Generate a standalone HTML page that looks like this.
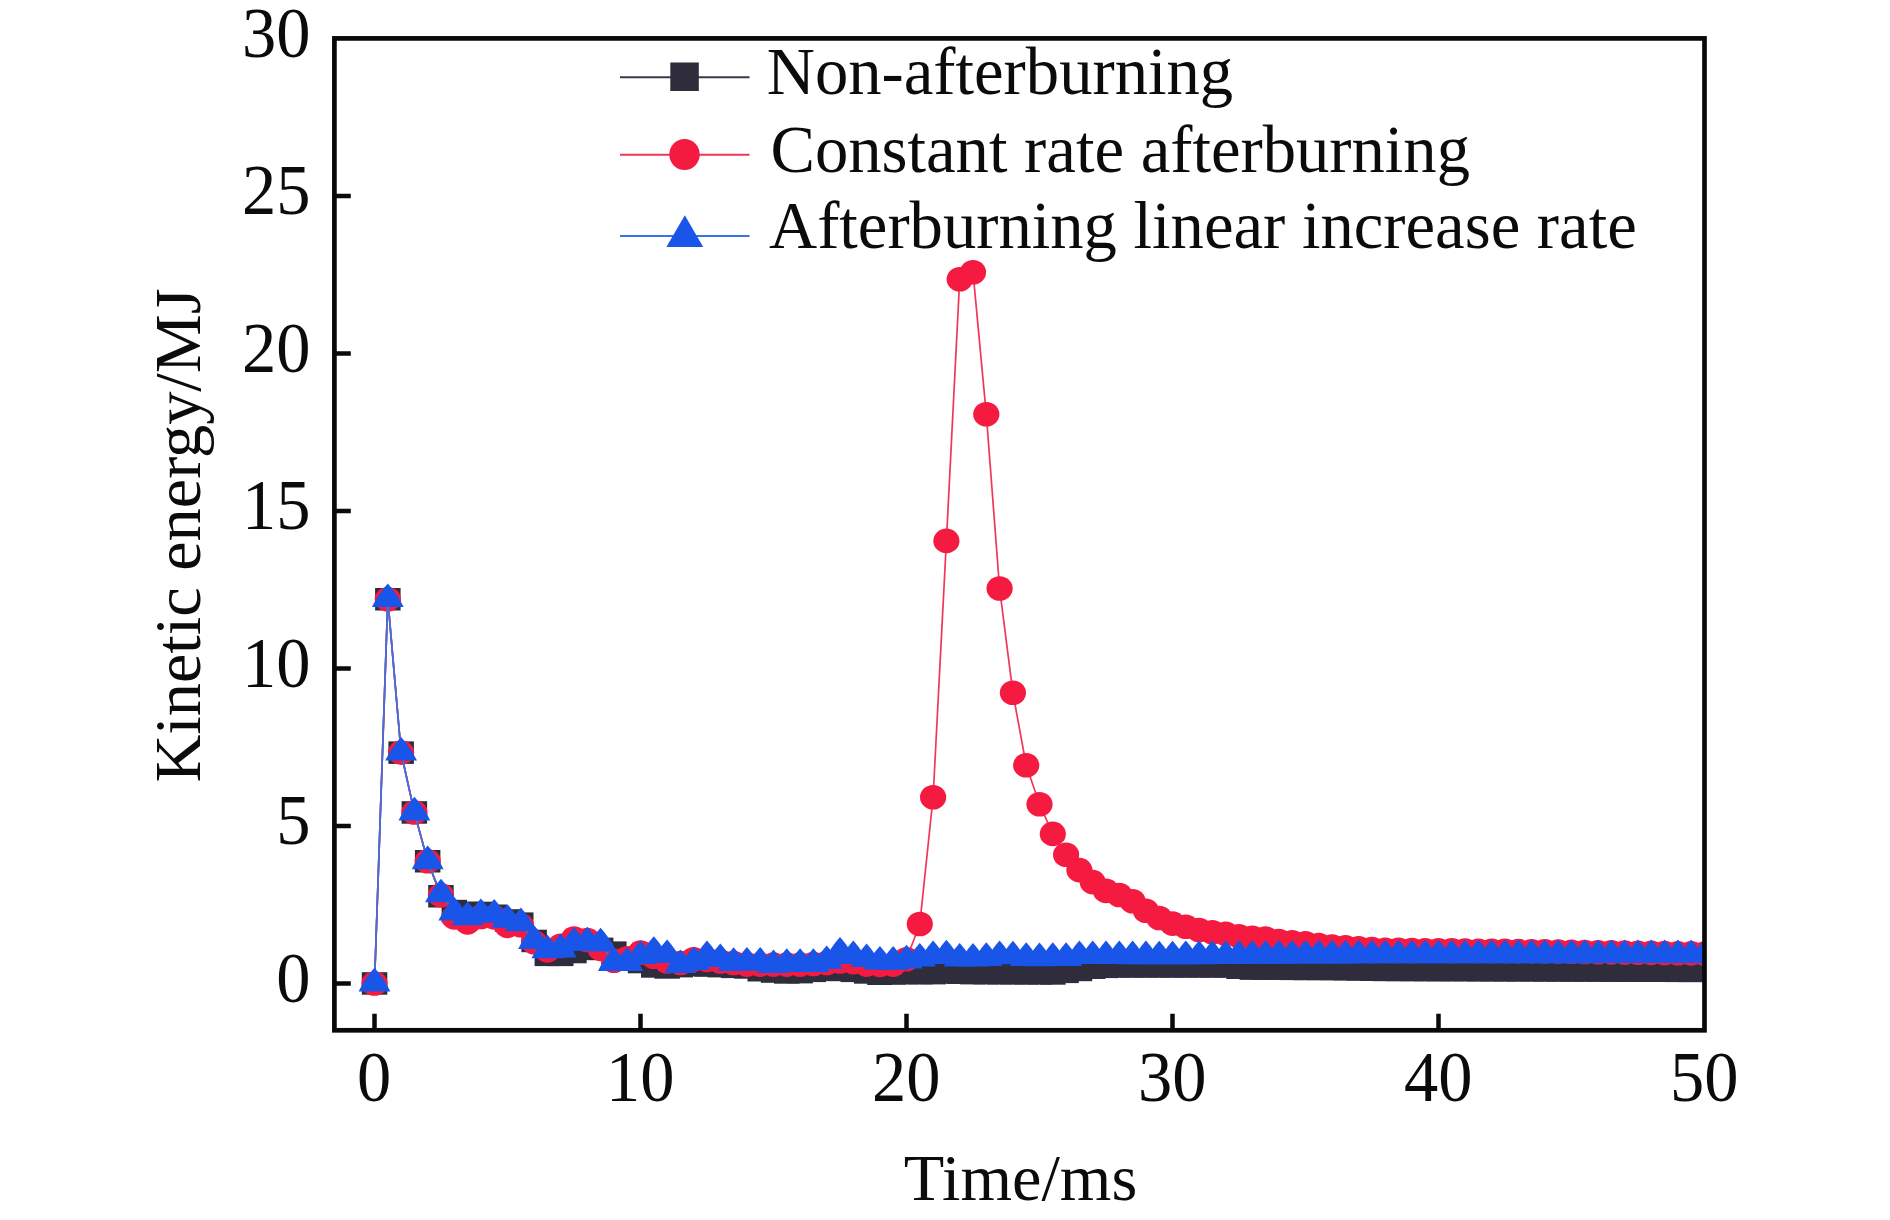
<!DOCTYPE html>
<html lang="en"><head><meta charset="utf-8"><title>Kinetic energy vs time</title>
<style>html,body{margin:0;padding:0;background:#fff}svg{display:block}</style></head>
<body>
<svg width="1890" height="1220" viewBox="0 0 1890 1220" font-family="'Liberation Serif', 'Times New Roman', serif" font-size="66.3" fill="#0b0b0b">
<rect width="1890" height="1220" fill="#fff"/>
<defs><clipPath id="pc"><rect x="334.4" y="38.4" width="1370" height="992"/></clipPath></defs>
<g clip-path="url(#pc)">
<polyline points="374.5,983.5 387.8,599.2 401.1,752.6 414.4,812.5 427.7,861.3 441,896.2 454.3,911 467.6,912.9 480.9,912.9 494.2,915.8 507.5,920.5 520.8,923.6 534.1,941 547.4,954.8 560.7,954.8 574,952 587.3,948.9 600.6,948.9 613.9,952.6 627.2,958.3 640.5,962.1 653.8,966.5 667.1,967.4 680.4,966.2 693.7,964.9 707,965.5 720.3,966.2 733.6,966.8 746.9,967.4 760.2,970.3 773.5,971.5 786.8,972.5 800.1,972.2 813.4,970.9 826.7,969.6 840,970 853.3,970.9 866.6,972.5 879.9,973.7 893.2,973.4 906.5,973.1 919.8,973.1 933.1,973.1 946.4,972.5 959.7,972.8 973,973.1 986.3,973.2 999.6,973.2 1012.9,973.3 1026.2,973.3 1039.5,973.4 1052.8,973.4 1066.1,971.8 1079.4,970 1092.7,967.8 1106,966.8 1119.3,966.5 1132.6,966.5 1145.9,966.5 1159.2,966.5 1172.5,966.5 1185.8,966.5 1199.1,966.5 1212.4,966.5 1225.7,966.5 1239,967.8 1252.3,968.7 1265.6,968.7 1278.9,968.8 1292.2,968.9 1305.5,968.9 1318.8,969 1332.1,969 1345.4,969.2 1358.7,969.5 1372,969.7 1385.3,970 1398.6,970 1411.9,970 1425.2,970.1 1438.5,970.1 1451.8,970.2 1465.1,970.2 1478.4,970.2 1491.7,970.3 1505,970.3 1518.3,970.3 1531.6,970.4 1544.9,970.4 1558.2,970.5 1571.5,970.5 1584.8,970.5 1598.1,970.6 1611.4,970.6 1624.7,970.7 1638,970.7 1651.3,970.7 1664.6,970.8 1677.9,970.8 1691.2,970.9 1704.5,970.9" fill="none" stroke="#3b3947" stroke-width="1.7"/><g fill="#2f2d3b"><rect x="361.8" y="972.2" width="25.5" height="22.5"/><rect x="375.1" y="588" width="25.5" height="22.5"/><rect x="388.4" y="741.4" width="25.5" height="22.5"/><rect x="401.6" y="801.2" width="25.5" height="22.5"/><rect x="414.9" y="850" width="25.5" height="22.5"/><rect x="428.2" y="885" width="25.5" height="22.5"/><rect x="441.6" y="899.8" width="25.5" height="22.5"/><rect x="454.9" y="901.7" width="25.5" height="22.5"/><rect x="468.1" y="901.7" width="25.5" height="22.5"/><rect x="481.4" y="904.5" width="25.5" height="22.5"/><rect x="494.8" y="909.2" width="25.5" height="22.5"/><rect x="508" y="912.4" width="25.5" height="22.5"/><rect x="521.4" y="929.7" width="25.5" height="22.5"/><rect x="534.6" y="943.6" width="25.5" height="22.5"/><rect x="548" y="943.6" width="25.5" height="22.5"/><rect x="561.2" y="940.8" width="25.5" height="22.5"/><rect x="574.5" y="937.6" width="25.5" height="22.5"/><rect x="587.9" y="937.6" width="25.5" height="22.5"/><rect x="601.1" y="941.4" width="25.5" height="22.5"/><rect x="614.5" y="947" width="25.5" height="22.5"/><rect x="627.8" y="950.8" width="25.5" height="22.5"/><rect x="641" y="955.2" width="25.5" height="22.5"/><rect x="654.4" y="956.2" width="25.5" height="22.5"/><rect x="667.7" y="954.9" width="25.5" height="22.5"/><rect x="681" y="953.7" width="25.5" height="22.5"/><rect x="694.2" y="954.3" width="25.5" height="22.5"/><rect x="707.5" y="954.9" width="25.5" height="22.5"/><rect x="720.9" y="955.6" width="25.5" height="22.5"/><rect x="734.2" y="956.2" width="25.5" height="22.5"/><rect x="747.5" y="959" width="25.5" height="22.5"/><rect x="760.8" y="960.3" width="25.5" height="22.5"/><rect x="774" y="961.2" width="25.5" height="22.5"/><rect x="787.4" y="960.9" width="25.5" height="22.5"/><rect x="800.7" y="959.6" width="25.5" height="22.5"/><rect x="814" y="958.4" width="25.5" height="22.5"/><rect x="827.2" y="958.7" width="25.5" height="22.5"/><rect x="840.5" y="959.6" width="25.5" height="22.5"/><rect x="853.9" y="961.2" width="25.5" height="22.5"/><rect x="867.2" y="962.5" width="25.5" height="22.5"/><rect x="880.5" y="962.2" width="25.5" height="22.5"/><rect x="893.8" y="961.9" width="25.5" height="22.5"/><rect x="907.1" y="961.9" width="25.5" height="22.5"/><rect x="920.4" y="961.9" width="25.5" height="22.5"/><rect x="933.6" y="961.2" width="25.5" height="22.5"/><rect x="947" y="961.5" width="25.5" height="22.5"/><rect x="960.2" y="961.9" width="25.5" height="22.5"/><rect x="973.6" y="961.9" width="25.5" height="22.5"/><rect x="986.9" y="962" width="25.5" height="22.5"/><rect x="1000.2" y="962" width="25.5" height="22.5"/><rect x="1013.5" y="962.1" width="25.5" height="22.5"/><rect x="1026.8" y="962.1" width="25.5" height="22.5"/><rect x="1040.1" y="962.2" width="25.5" height="22.5"/><rect x="1053.3" y="960.6" width="25.5" height="22.5"/><rect x="1066.7" y="958.7" width="25.5" height="22.5"/><rect x="1080" y="956.5" width="25.5" height="22.5"/><rect x="1093.2" y="955.6" width="25.5" height="22.5"/><rect x="1106.6" y="955.2" width="25.5" height="22.5"/><rect x="1119.8" y="955.2" width="25.5" height="22.5"/><rect x="1133.2" y="955.2" width="25.5" height="22.5"/><rect x="1146.5" y="955.2" width="25.5" height="22.5"/><rect x="1159.8" y="955.2" width="25.5" height="22.5"/><rect x="1173.1" y="955.2" width="25.5" height="22.5"/><rect x="1186.3" y="955.2" width="25.5" height="22.5"/><rect x="1199.7" y="955.2" width="25.5" height="22.5"/><rect x="1213" y="955.2" width="25.5" height="22.5"/><rect x="1226.2" y="956.5" width="25.5" height="22.5"/><rect x="1239.6" y="957.4" width="25.5" height="22.5"/><rect x="1252.8" y="957.5" width="25.5" height="22.5"/><rect x="1266.2" y="957.5" width="25.5" height="22.5"/><rect x="1279.5" y="957.6" width="25.5" height="22.5"/><rect x="1292.8" y="957.7" width="25.5" height="22.5"/><rect x="1306.1" y="957.7" width="25.5" height="22.5"/><rect x="1319.3" y="957.8" width="25.5" height="22.5"/><rect x="1332.7" y="958" width="25.5" height="22.5"/><rect x="1346" y="958.2" width="25.5" height="22.5"/><rect x="1359.2" y="958.5" width="25.5" height="22.5"/><rect x="1372.6" y="958.7" width="25.5" height="22.5"/><rect x="1385.9" y="958.7" width="25.5" height="22.5"/><rect x="1399.2" y="958.8" width="25.5" height="22.5"/><rect x="1412.5" y="958.8" width="25.5" height="22.5"/><rect x="1425.8" y="958.9" width="25.5" height="22.5"/><rect x="1439" y="958.9" width="25.5" height="22.5"/><rect x="1452.4" y="958.9" width="25.5" height="22.5"/><rect x="1465.7" y="959" width="25.5" height="22.5"/><rect x="1479" y="959" width="25.5" height="22.5"/><rect x="1492.2" y="959.1" width="25.5" height="22.5"/><rect x="1505.5" y="959.1" width="25.5" height="22.5"/><rect x="1518.9" y="959.1" width="25.5" height="22.5"/><rect x="1532.2" y="959.2" width="25.5" height="22.5"/><rect x="1545.5" y="959.2" width="25.5" height="22.5"/><rect x="1558.8" y="959.3" width="25.5" height="22.5"/><rect x="1572" y="959.3" width="25.5" height="22.5"/><rect x="1585.4" y="959.3" width="25.5" height="22.5"/><rect x="1598.7" y="959.4" width="25.5" height="22.5"/><rect x="1612" y="959.4" width="25.5" height="22.5"/><rect x="1625.2" y="959.5" width="25.5" height="22.5"/><rect x="1638.6" y="959.5" width="25.5" height="22.5"/><rect x="1651.9" y="959.5" width="25.5" height="22.5"/><rect x="1665.2" y="959.6" width="25.5" height="22.5"/><rect x="1678.5" y="959.6" width="25.5" height="22.5"/><rect x="1691.8" y="959.6" width="25.5" height="22.5"/></g>
<polyline points="374.5,983.5 387.8,599.2 401.1,752.6 414.4,812.5 427.7,861.3 441,895.3 454.3,917.4 467.6,922.4 480.9,917 494.2,917.4 507.5,925.9 520.8,925.2 534.1,942.2 547.4,950.4 560.7,945.7 574,938.5 587.3,940 600.6,948.9 613.9,960.8 627.2,958.3 640.5,952.6 653.8,956.7 667.1,961.5 680.4,963 693.7,959.2 707,959.9 720.3,961.5 733.6,963 746.9,964.6 760.2,964.6 773.5,964.6 786.8,964.6 800.1,964.6 813.4,964 826.7,963 840,961.5 853.3,962.1 866.6,964.6 879.9,964.9 893.2,964.6 906.5,959.2 919.8,924 933.1,797.3 946.4,540.9 959.7,279.2 973,272.2 986.3,414.3 999.6,588.5 1012.9,692.8 1026.2,765.2 1039.5,804.3 1052.8,833.9 1066.1,854.7 1079.4,870.1 1092.7,882.1 1106,890.9 1119.3,895 1132.6,901.3 1145.9,910.7 1159.2,918 1172.5,923.6 1185.8,926.8 1199.1,930 1212.4,932.2 1225.7,933.7 1239,936.2 1252.3,937.8 1265.6,938.5 1278.9,941 1292.2,942.2 1305.5,943.2 1318.8,945.1 1332.1,946.6 1345.4,947.4 1358.7,948.2 1372,949 1385.3,949.8 1398.6,949.9 1411.9,950 1425.2,950.2 1438.5,950.3 1451.8,950.4 1465.1,950.6 1478.4,950.7 1491.7,950.8 1505,950.9 1518.3,951.1 1531.6,951.3 1544.9,951.4 1558.2,951.6 1571.5,951.8 1584.8,952 1598.1,952.2 1611.4,952.4 1624.7,952.6 1638,952.8 1651.3,952.9 1664.6,953.1 1677.9,953.3 1691.2,953.4 1704.5,953.6" fill="none" stroke="#f2365a" stroke-width="1.7"/><g fill="#f41a40"><ellipse cx="374.5" cy="983.5" rx="13.1" ry="12.3"/><ellipse cx="387.8" cy="599.2" rx="13.1" ry="12.3"/><ellipse cx="401.1" cy="752.6" rx="13.1" ry="12.3"/><ellipse cx="414.4" cy="812.5" rx="13.1" ry="12.3"/><ellipse cx="427.7" cy="861.3" rx="13.1" ry="12.3"/><ellipse cx="441" cy="895.3" rx="13.1" ry="12.3"/><ellipse cx="454.3" cy="917.4" rx="13.1" ry="12.3"/><ellipse cx="467.6" cy="922.4" rx="13.1" ry="12.3"/><ellipse cx="480.9" cy="917" rx="13.1" ry="12.3"/><ellipse cx="494.2" cy="917.4" rx="13.1" ry="12.3"/><ellipse cx="507.5" cy="925.9" rx="13.1" ry="12.3"/><ellipse cx="520.8" cy="925.2" rx="13.1" ry="12.3"/><ellipse cx="534.1" cy="942.2" rx="13.1" ry="12.3"/><ellipse cx="547.4" cy="950.4" rx="13.1" ry="12.3"/><ellipse cx="560.7" cy="945.7" rx="13.1" ry="12.3"/><ellipse cx="574" cy="938.5" rx="13.1" ry="12.3"/><ellipse cx="587.3" cy="940" rx="13.1" ry="12.3"/><ellipse cx="600.6" cy="948.9" rx="13.1" ry="12.3"/><ellipse cx="613.9" cy="960.8" rx="13.1" ry="12.3"/><ellipse cx="627.2" cy="958.3" rx="13.1" ry="12.3"/><ellipse cx="640.5" cy="952.6" rx="13.1" ry="12.3"/><ellipse cx="653.8" cy="956.7" rx="13.1" ry="12.3"/><ellipse cx="667.1" cy="961.5" rx="13.1" ry="12.3"/><ellipse cx="680.4" cy="963" rx="13.1" ry="12.3"/><ellipse cx="693.7" cy="959.2" rx="13.1" ry="12.3"/><ellipse cx="707" cy="959.9" rx="13.1" ry="12.3"/><ellipse cx="720.3" cy="961.5" rx="13.1" ry="12.3"/><ellipse cx="733.6" cy="963" rx="13.1" ry="12.3"/><ellipse cx="746.9" cy="964.6" rx="13.1" ry="12.3"/><ellipse cx="760.2" cy="964.6" rx="13.1" ry="12.3"/><ellipse cx="773.5" cy="964.6" rx="13.1" ry="12.3"/><ellipse cx="786.8" cy="964.6" rx="13.1" ry="12.3"/><ellipse cx="800.1" cy="964.6" rx="13.1" ry="12.3"/><ellipse cx="813.4" cy="964" rx="13.1" ry="12.3"/><ellipse cx="826.7" cy="963" rx="13.1" ry="12.3"/><ellipse cx="840" cy="961.5" rx="13.1" ry="12.3"/><ellipse cx="853.3" cy="962.1" rx="13.1" ry="12.3"/><ellipse cx="866.6" cy="964.6" rx="13.1" ry="12.3"/><ellipse cx="879.9" cy="964.9" rx="13.1" ry="12.3"/><ellipse cx="893.2" cy="964.6" rx="13.1" ry="12.3"/><ellipse cx="906.5" cy="959.2" rx="13.1" ry="12.3"/><ellipse cx="919.8" cy="924" rx="13.1" ry="12.3"/><ellipse cx="933.1" cy="797.3" rx="13.1" ry="12.3"/><ellipse cx="946.4" cy="540.9" rx="13.1" ry="12.3"/><ellipse cx="959.7" cy="279.2" rx="13.1" ry="12.3"/><ellipse cx="973" cy="272.2" rx="13.1" ry="12.3"/><ellipse cx="986.3" cy="414.3" rx="13.1" ry="12.3"/><ellipse cx="999.6" cy="588.5" rx="13.1" ry="12.3"/><ellipse cx="1012.9" cy="692.8" rx="13.1" ry="12.3"/><ellipse cx="1026.2" cy="765.2" rx="13.1" ry="12.3"/><ellipse cx="1039.5" cy="804.3" rx="13.1" ry="12.3"/><ellipse cx="1052.8" cy="833.9" rx="13.1" ry="12.3"/><ellipse cx="1066.1" cy="854.7" rx="13.1" ry="12.3"/><ellipse cx="1079.4" cy="870.1" rx="13.1" ry="12.3"/><ellipse cx="1092.7" cy="882.1" rx="13.1" ry="12.3"/><ellipse cx="1106" cy="890.9" rx="13.1" ry="12.3"/><ellipse cx="1119.3" cy="895" rx="13.1" ry="12.3"/><ellipse cx="1132.6" cy="901.3" rx="13.1" ry="12.3"/><ellipse cx="1145.9" cy="910.7" rx="13.1" ry="12.3"/><ellipse cx="1159.2" cy="918" rx="13.1" ry="12.3"/><ellipse cx="1172.5" cy="923.6" rx="13.1" ry="12.3"/><ellipse cx="1185.8" cy="926.8" rx="13.1" ry="12.3"/><ellipse cx="1199.1" cy="930" rx="13.1" ry="12.3"/><ellipse cx="1212.4" cy="932.2" rx="13.1" ry="12.3"/><ellipse cx="1225.7" cy="933.7" rx="13.1" ry="12.3"/><ellipse cx="1239" cy="936.2" rx="13.1" ry="12.3"/><ellipse cx="1252.3" cy="937.8" rx="13.1" ry="12.3"/><ellipse cx="1265.6" cy="938.5" rx="13.1" ry="12.3"/><ellipse cx="1278.9" cy="941" rx="13.1" ry="12.3"/><ellipse cx="1292.2" cy="942.2" rx="13.1" ry="12.3"/><ellipse cx="1305.5" cy="943.2" rx="13.1" ry="12.3"/><ellipse cx="1318.8" cy="945.1" rx="13.1" ry="12.3"/><ellipse cx="1332.1" cy="946.6" rx="13.1" ry="12.3"/><ellipse cx="1345.4" cy="947.4" rx="13.1" ry="12.3"/><ellipse cx="1358.7" cy="948.2" rx="13.1" ry="12.3"/><ellipse cx="1372" cy="949" rx="13.1" ry="12.3"/><ellipse cx="1385.3" cy="949.8" rx="13.1" ry="12.3"/><ellipse cx="1398.6" cy="949.9" rx="13.1" ry="12.3"/><ellipse cx="1411.9" cy="950" rx="13.1" ry="12.3"/><ellipse cx="1425.2" cy="950.2" rx="13.1" ry="12.3"/><ellipse cx="1438.5" cy="950.3" rx="13.1" ry="12.3"/><ellipse cx="1451.8" cy="950.4" rx="13.1" ry="12.3"/><ellipse cx="1465.1" cy="950.6" rx="13.1" ry="12.3"/><ellipse cx="1478.4" cy="950.7" rx="13.1" ry="12.3"/><ellipse cx="1491.7" cy="950.8" rx="13.1" ry="12.3"/><ellipse cx="1505" cy="950.9" rx="13.1" ry="12.3"/><ellipse cx="1518.3" cy="951.1" rx="13.1" ry="12.3"/><ellipse cx="1531.6" cy="951.3" rx="13.1" ry="12.3"/><ellipse cx="1544.9" cy="951.4" rx="13.1" ry="12.3"/><ellipse cx="1558.2" cy="951.6" rx="13.1" ry="12.3"/><ellipse cx="1571.5" cy="951.8" rx="13.1" ry="12.3"/><ellipse cx="1584.8" cy="952" rx="13.1" ry="12.3"/><ellipse cx="1598.1" cy="952.2" rx="13.1" ry="12.3"/><ellipse cx="1611.4" cy="952.4" rx="13.1" ry="12.3"/><ellipse cx="1624.7" cy="952.6" rx="13.1" ry="12.3"/><ellipse cx="1638" cy="952.8" rx="13.1" ry="12.3"/><ellipse cx="1651.3" cy="952.9" rx="13.1" ry="12.3"/><ellipse cx="1664.6" cy="953.1" rx="13.1" ry="12.3"/><ellipse cx="1677.9" cy="953.3" rx="13.1" ry="12.3"/><ellipse cx="1691.2" cy="953.4" rx="13.1" ry="12.3"/><ellipse cx="1704.5" cy="953.6" rx="13.1" ry="12.3"/></g>
<polyline points="374.5,983.5 387.8,599.2 401.1,752.6 414.4,812.5 427.7,861.3 441,894.4 454.3,912.6 467.6,917.4 480.9,914.2 494.2,914.8 507.5,919.9 520.8,923.3 534.1,941 547.4,950.4 560.7,949.5 574,942.9 587.3,942.5 600.6,943.5 613.9,963 627.2,963 640.5,956.1 653.8,952 667.1,955.1 680.4,965.2 693.7,962.1 707,956.1 720.3,959.2 733.6,963 746.9,962.7 760.2,962.7 773.5,965.2 786.8,964 800.1,964 813.4,964 826.7,961.1 840,952.6 853.3,956.1 866.6,959.2 879.9,961.8 893.2,961.8 906.5,960.5 919.8,958.6 933.1,956.1 946.4,955.5 959.7,958.6 973,958.6 986.3,958 999.6,956.1 1012.9,956.4 1026.2,958 1039.5,958.3 1052.8,958 1066.1,958 1079.4,956.1 1092.7,956.1 1106,956.1 1119.3,956.2 1132.6,956.3 1145.9,956.3 1159.2,956.4 1172.5,956.4 1185.8,956.3 1199.1,956.3 1212.4,956.2 1225.7,956.1 1239,956 1252.3,955.9 1265.6,955.9 1278.9,955.8 1292.2,955.7 1305.5,955.6 1318.8,955.5 1332.1,955.5 1345.4,955.5 1358.7,955.4 1372,955.4 1385.3,955.4 1398.6,955.4 1411.9,955.4 1425.2,955.4 1438.5,955.4 1451.8,955.4 1465.1,955.4 1478.4,955.3 1491.7,955.3 1505,955.3 1518.3,955.3 1531.6,955.3 1544.9,955.3 1558.2,955.3 1571.5,955.3 1584.8,955.3 1598.1,955.2 1611.4,955.2 1624.7,955.2 1638,955.2 1651.3,955.2 1664.6,955.2 1677.9,955.2 1691.2,955.2 1704.5,955.1" fill="none" stroke="#3a72ea" stroke-width="1.7"/><g fill="#1a55e9"><path d="M374.5 967.8Q384.1 978.6 390.4 991.4H358.6Q364.9 978.6 374.5 967.8Z"/><path d="M387.8 583.5Q397.4 594.3 403.7 607.1H371.9Q378.2 594.3 387.8 583.5Z"/><path d="M401.1 736.9Q410.7 747.7 417 760.5H385.2Q391.5 747.7 401.1 736.9Z"/><path d="M414.4 796.8Q424 807.6 430.3 820.4H398.5Q404.8 807.6 414.4 796.8Z"/><path d="M427.7 845.6Q437.3 856.4 443.6 869.2H411.8Q418.1 856.4 427.7 845.6Z"/><path d="M441 878.7Q450.6 889.5 456.9 902.3H425.1Q431.4 889.5 441 878.7Z"/><path d="M454.3 896.9Q463.9 907.7 470.2 920.5H438.4Q444.7 907.7 454.3 896.9Z"/><path d="M467.6 901.6Q477.2 912.5 483.5 925.2H451.7Q458 912.5 467.6 901.6Z"/><path d="M480.9 898.5Q490.5 909.3 496.8 922.1H465Q471.3 909.3 480.9 898.5Z"/><path d="M494.2 899.1Q503.8 909.9 510.1 922.7H478.3Q484.6 909.9 494.2 899.1Z"/><path d="M507.5 904.2Q517.1 915 523.4 927.8H491.6Q497.9 915 507.5 904.2Z"/><path d="M520.8 907.6Q530.4 918.4 536.7 931.2H504.9Q511.2 918.4 520.8 907.6Z"/><path d="M534.1 925.3Q543.7 936.1 550 948.9H518.2Q524.5 936.1 534.1 925.3Z"/><path d="M547.4 934.7Q557 945.5 563.3 958.3H531.5Q537.8 945.5 547.4 934.7Z"/><path d="M560.7 933.8Q570.3 944.6 576.6 957.4H544.8Q551.1 944.6 560.7 933.8Z"/><path d="M574 927.2Q583.6 938 589.9 950.8H558.1Q564.4 938 574 927.2Z"/><path d="M587.3 926.8Q596.9 937.6 603.2 950.4H571.4Q577.7 937.6 587.3 926.8Z"/><path d="M600.6 927.8Q610.2 938.6 616.5 951.4H584.7Q591 938.6 600.6 927.8Z"/><path d="M613.9 947.3Q623.5 958.1 629.8 970.9H598Q604.3 958.1 613.9 947.3Z"/><path d="M627.2 947.3Q636.8 958.1 643.1 970.9H611.3Q617.6 958.1 627.2 947.3Z"/><path d="M640.5 940.4Q650.1 951.2 656.4 964H624.6Q630.9 951.2 640.5 940.4Z"/><path d="M653.8 936.3Q663.4 947.1 669.7 959.9H637.9Q644.2 947.1 653.8 936.3Z"/><path d="M667.1 939.4Q676.7 950.2 683 963H651.2Q657.5 950.2 667.1 939.4Z"/><path d="M680.4 949.5Q690 960.3 696.3 973.1H664.5Q670.8 960.3 680.4 949.5Z"/><path d="M693.7 946.4Q703.3 957.2 709.6 970H677.8Q684.1 957.2 693.7 946.4Z"/><path d="M707 940.4Q716.6 951.2 722.9 964H691.1Q697.4 951.2 707 940.4Z"/><path d="M720.3 943.5Q729.9 954.3 736.2 967.1H704.4Q710.7 954.3 720.3 943.5Z"/><path d="M733.6 947.3Q743.2 958.1 749.5 970.9H717.7Q724 958.1 733.6 947.3Z"/><path d="M746.9 947Q756.5 957.8 762.8 970.6H731Q737.3 957.8 746.9 947Z"/><path d="M760.2 947Q769.8 957.8 776.1 970.6H744.3Q750.6 957.8 760.2 947Z"/><path d="M773.5 949.5Q783.1 960.3 789.4 973.1H757.6Q763.9 960.3 773.5 949.5Z"/><path d="M786.8 948.3Q796.4 959.1 802.7 971.9H770.9Q777.2 959.1 786.8 948.3Z"/><path d="M800.1 948.3Q809.7 959.1 816 971.9H784.2Q790.5 959.1 800.1 948.3Z"/><path d="M813.4 948.3Q823 959.1 829.3 971.9H797.5Q803.8 959.1 813.4 948.3Z"/><path d="M826.7 945.4Q836.3 956.2 842.6 969H810.8Q817.1 956.2 826.7 945.4Z"/><path d="M840 936.9Q849.6 947.7 855.9 960.5H824.1Q830.4 947.7 840 936.9Z"/><path d="M853.3 940.4Q862.9 951.2 869.2 964H837.4Q843.7 951.2 853.3 940.4Z"/><path d="M866.6 943.5Q876.2 954.3 882.5 967.1H850.7Q857 954.3 866.6 943.5Z"/><path d="M879.9 946.1Q889.5 956.9 895.8 969.7H864Q870.3 956.9 879.9 946.1Z"/><path d="M893.2 946.1Q902.8 956.9 909.1 969.7H877.3Q883.6 956.9 893.2 946.1Z"/><path d="M906.5 944.8Q916.1 955.6 922.4 968.4H890.6Q896.9 955.6 906.5 944.8Z"/><path d="M919.8 942.9Q929.4 953.7 935.7 966.5H903.9Q910.2 953.7 919.8 942.9Z"/><path d="M933.1 940.4Q942.7 951.2 949 964H917.2Q923.5 951.2 933.1 940.4Z"/><path d="M946.4 939.8Q956 950.6 962.3 963.4H930.5Q936.8 950.6 946.4 939.8Z"/><path d="M959.7 942.9Q969.3 953.7 975.6 966.5H943.8Q950.1 953.7 959.7 942.9Z"/><path d="M973 942.9Q982.6 953.7 988.9 966.5H957.1Q963.4 953.7 973 942.9Z"/><path d="M986.3 942.3Q995.9 953.1 1002.2 965.9H970.4Q976.7 953.1 986.3 942.3Z"/><path d="M999.6 940.4Q1009.2 951.2 1015.5 964H983.7Q990 951.2 999.6 940.4Z"/><path d="M1012.9 940.7Q1022.5 951.5 1028.8 964.3H997Q1003.3 951.5 1012.9 940.7Z"/><path d="M1026.2 942.3Q1035.8 953.1 1042.1 965.9H1010.3Q1016.6 953.1 1026.2 942.3Z"/><path d="M1039.5 942.6Q1049.1 953.4 1055.4 966.2H1023.6Q1029.9 953.4 1039.5 942.6Z"/><path d="M1052.8 942.3Q1062.4 953.1 1068.7 965.9H1036.9Q1043.2 953.1 1052.8 942.3Z"/><path d="M1066.1 942.3Q1075.7 953.1 1082 965.9H1050.2Q1056.5 953.1 1066.1 942.3Z"/><path d="M1079.4 940.4Q1089 951.2 1095.3 964H1063.5Q1069.8 951.2 1079.4 940.4Z"/><path d="M1092.7 940.4Q1102.3 951.2 1108.6 964H1076.8Q1083.1 951.2 1092.7 940.4Z"/><path d="M1106 940.4Q1115.6 951.2 1121.9 964H1090.1Q1096.4 951.2 1106 940.4Z"/><path d="M1119.3 940.5Q1128.9 951.3 1135.2 964.1H1103.4Q1109.7 951.3 1119.3 940.5Z"/><path d="M1132.6 940.6Q1142.2 951.4 1148.5 964.2H1116.7Q1123 951.4 1132.6 940.6Z"/><path d="M1145.9 940.6Q1155.5 951.4 1161.8 964.2H1130Q1136.3 951.4 1145.9 940.6Z"/><path d="M1159.2 940.7Q1168.8 951.5 1175.1 964.3H1143.3Q1149.6 951.5 1159.2 940.7Z"/><path d="M1172.5 940.7Q1182.1 951.5 1188.4 964.3H1156.6Q1162.9 951.5 1172.5 940.7Z"/><path d="M1185.8 940.6Q1195.4 951.4 1201.7 964.2H1169.9Q1176.2 951.4 1185.8 940.6Z"/><path d="M1199.1 940.6Q1208.7 951.4 1215 964.2H1183.2Q1189.5 951.4 1199.1 940.6Z"/><path d="M1212.4 940.5Q1222 951.3 1228.3 964.1H1196.5Q1202.8 951.3 1212.4 940.5Z"/><path d="M1225.7 940.4Q1235.3 951.2 1241.6 964H1209.8Q1216.1 951.2 1225.7 940.4Z"/><path d="M1239 940.3Q1248.6 951.1 1254.9 963.9H1223.1Q1229.4 951.1 1239 940.3Z"/><path d="M1252.3 940.2Q1261.9 951 1268.2 963.8H1236.4Q1242.7 951 1252.3 940.2Z"/><path d="M1265.6 940.2Q1275.2 951 1281.5 963.8H1249.7Q1256 951 1265.6 940.2Z"/><path d="M1278.9 940.1Q1288.5 950.9 1294.8 963.7H1263Q1269.3 950.9 1278.9 940.1Z"/><path d="M1292.2 940Q1301.8 950.8 1308.1 963.6H1276.3Q1282.6 950.8 1292.2 940Z"/><path d="M1305.5 939.9Q1315.1 950.7 1321.4 963.5H1289.6Q1295.9 950.7 1305.5 939.9Z"/><path d="M1318.8 939.8Q1328.4 950.6 1334.7 963.4H1302.9Q1309.2 950.6 1318.8 939.8Z"/><path d="M1332.1 939.8Q1341.7 950.6 1348 963.4H1316.2Q1322.5 950.6 1332.1 939.8Z"/><path d="M1345.4 939.8Q1355 950.6 1361.3 963.4H1329.5Q1335.8 950.6 1345.4 939.8Z"/><path d="M1358.7 939.7Q1368.3 950.5 1374.6 963.3H1342.8Q1349.1 950.5 1358.7 939.7Z"/><path d="M1372 939.7Q1381.6 950.5 1387.9 963.3H1356.1Q1362.4 950.5 1372 939.7Z"/><path d="M1385.3 939.7Q1394.9 950.5 1401.2 963.3H1369.4Q1375.7 950.5 1385.3 939.7Z"/><path d="M1398.6 939.7Q1408.2 950.5 1414.5 963.3H1382.7Q1389 950.5 1398.6 939.7Z"/><path d="M1411.9 939.7Q1421.5 950.5 1427.8 963.3H1396Q1402.3 950.5 1411.9 939.7Z"/><path d="M1425.2 939.7Q1434.8 950.5 1441.1 963.3H1409.3Q1415.6 950.5 1425.2 939.7Z"/><path d="M1438.5 939.7Q1448.1 950.5 1454.4 963.3H1422.6Q1428.9 950.5 1438.5 939.7Z"/><path d="M1451.8 939.7Q1461.4 950.5 1467.7 963.3H1435.9Q1442.2 950.5 1451.8 939.7Z"/><path d="M1465.1 939.7Q1474.7 950.5 1481 963.3H1449.2Q1455.5 950.5 1465.1 939.7Z"/><path d="M1478.4 939.6Q1488 950.4 1494.3 963.2H1462.5Q1468.8 950.4 1478.4 939.6Z"/><path d="M1491.7 939.6Q1501.3 950.4 1507.6 963.2H1475.8Q1482.1 950.4 1491.7 939.6Z"/><path d="M1505 939.6Q1514.6 950.4 1520.9 963.2H1489.1Q1495.4 950.4 1505 939.6Z"/><path d="M1518.3 939.6Q1527.9 950.4 1534.2 963.2H1502.4Q1508.7 950.4 1518.3 939.6Z"/><path d="M1531.6 939.6Q1541.2 950.4 1547.5 963.2H1515.7Q1522 950.4 1531.6 939.6Z"/><path d="M1544.9 939.6Q1554.5 950.4 1560.8 963.2H1529Q1535.3 950.4 1544.9 939.6Z"/><path d="M1558.2 939.6Q1567.8 950.4 1574.1 963.2H1542.3Q1548.6 950.4 1558.2 939.6Z"/><path d="M1571.5 939.6Q1581.1 950.4 1587.4 963.2H1555.6Q1561.9 950.4 1571.5 939.6Z"/><path d="M1584.8 939.6Q1594.4 950.4 1600.7 963.2H1568.9Q1575.2 950.4 1584.8 939.6Z"/><path d="M1598.1 939.5Q1607.7 950.3 1614 963.1H1582.2Q1588.5 950.3 1598.1 939.5Z"/><path d="M1611.4 939.5Q1621 950.3 1627.3 963.1H1595.5Q1601.8 950.3 1611.4 939.5Z"/><path d="M1624.7 939.5Q1634.3 950.3 1640.6 963.1H1608.8Q1615.1 950.3 1624.7 939.5Z"/><path d="M1638 939.5Q1647.6 950.3 1653.9 963.1H1622.1Q1628.4 950.3 1638 939.5Z"/><path d="M1651.3 939.5Q1660.9 950.3 1667.2 963.1H1635.4Q1641.7 950.3 1651.3 939.5Z"/><path d="M1664.6 939.5Q1674.2 950.3 1680.5 963.1H1648.7Q1655 950.3 1664.6 939.5Z"/><path d="M1677.9 939.5Q1687.5 950.3 1693.8 963.1H1662Q1668.3 950.3 1677.9 939.5Z"/><path d="M1691.2 939.5Q1700.8 950.3 1707.1 963.1H1675.3Q1681.6 950.3 1691.2 939.5Z"/><path d="M1704.5 939.4Q1714.1 950.2 1720.4 963H1688.6Q1694.9 950.2 1704.5 939.4Z"/></g>
</g>
<g stroke="#0a0a0a" stroke-width="4.7" fill="none">
<rect x="334.4" y="38.4" width="1370.1" height="991.9"/>
<path d="M334.4 983.5H350.8M334.4 826H350.8M334.4 668.5H350.8M334.4 511H350.8M334.4 353.5H350.8M334.4 196H350.8M374.5 1030.3V1013.7M640.5 1030.3V1013.7M906.5 1030.3V1013.7M1172.5 1030.3V1013.7M1438.5 1030.3V1013.7" stroke-width="4.5"/>
</g>
<g text-anchor="end" font-size="68.5">
<text transform="translate(310.5 1001.5) scale(1 1.045)">0</text>
<text transform="translate(310.5 844) scale(1 1.045)">5</text>
<text transform="translate(310.5 686.5) scale(1 1.045)">10</text>
<text transform="translate(310.5 529) scale(1 1.045)">15</text>
<text transform="translate(310.5 371.5) scale(1 1.045)">20</text>
<text transform="translate(310.5 214) scale(1 1.045)">25</text>
<text transform="translate(310.5 56.5) scale(1 1.045)">30</text>
</g><g text-anchor="middle" font-size="68.5">
<text transform="translate(374.2 1101) scale(1 1.045)">0</text>
<text transform="translate(640.2 1101) scale(1 1.045)">10</text>
<text transform="translate(906.2 1101) scale(1 1.045)">20</text>
<text transform="translate(1172.2 1101) scale(1 1.045)">30</text>
<text transform="translate(1438.2 1101) scale(1 1.045)">40</text>
<text transform="translate(1704.2 1101) scale(1 1.045)">50</text>
</g><g text-anchor="middle">
<text x="1020.5" y="1199.8">Time/ms</text>
<text transform="translate(199.6 535.5) rotate(-90)">Kinetic energy/MJ</text>
</g>
<path d="M620 77.2H749.5" stroke="#3b3947" stroke-width="2"/><rect x="670.3" y="62.5" width="28.5" height="28.5" fill="#2f2d3b"/>
<path d="M620 154.8H749.5" stroke="#f2365a" stroke-width="2"/><ellipse cx="684.5" cy="154.5" rx="15.2" ry="15.6" fill="#f41a40"/>
<path d="M620 236H749.5" stroke="#3a72ea" stroke-width="2"/><path d="M684.8 215.3L703.2 247H666.4Z" fill="#1a55e9"/>
<g font-size="66.65"><text x="766.8" y="93.7">Non-afterburning</text>
<text x="770.5" y="171.5">Constant rate afterburning</text>
<text x="769" y="248.3">Afterburning linear increase rate</text></g>
</svg>
</body></html>
